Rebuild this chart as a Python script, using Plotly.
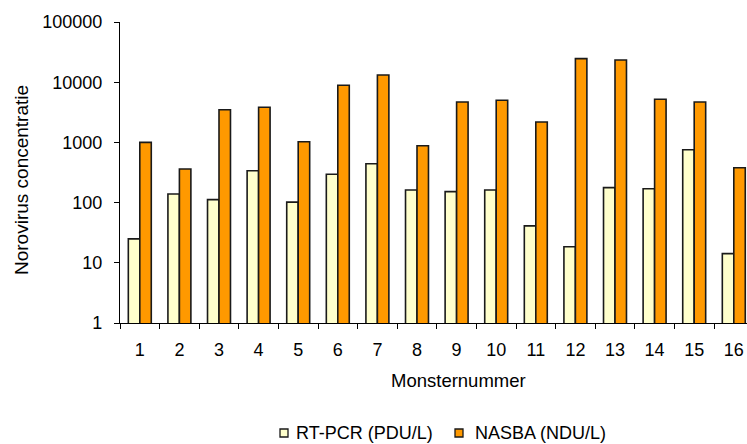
import plotly.graph_objects as go

# Sample numbers and measured norovirus concentrations
samples = [str(i) for i in range(1, 17)]
rt_pcr = [25, 139, 112, 339, 102, 295, 443, 162, 152, 162, 41, 18.5, 177, 170, 757, 14.2]
nasba = [1000, 361, 3490, 3830, 1027, 8880, 13180, 881, 4690, 5000, 2180, 24600, 23400, 5200, 4690, 380]

y_tick_values = [1, 10, 100, 1000, 10000, 100000]
y_tick_labels = ["1", "10", "100", "1000", "10000", "100000"]

series_names = ["RT-PCR (PDU/L)", "NASBA (NDU/L)"]
series_colors = ["#FFFFCC", "#FF9900"]

W, H = 747, 444
L, R, T, B = 120, 0, 22, 121
plot_w = W - L - R
plot_h = H - T - B
cat_px = 39.6  # pixel width of one sample slot


def px_x(p):
    return (p - L) / plot_w


def px_y(p):
    return (H - B - p) / plot_h


FONT = "Liberation Sans, Arial, sans-serif"

fig = go.Figure()
for name, vals, col in zip(series_names, [rt_pcr, nasba], series_colors):
    fig.add_trace(go.Bar(
        x=samples, y=vals, name=name,
        marker=dict(color=col, line=dict(color="#1a1a1a", width=1.6)),
        showlegend=False,
    ))

fig.update_layout(
    width=W, height=H,
    margin=dict(l=L, r=R, t=T, b=B, pad=0),
    paper_bgcolor="white", plot_bgcolor="white",
    barmode="group", bargap=0.42, bargroupgap=0,
    font=dict(family=FONT, size=18, color="black"),
    xaxis=dict(
        type="category",
        range=[-0.5, -0.5 + plot_w / cat_px],
        showgrid=False, zeroline=False,
        showline=True, linecolor="black", linewidth=1.3,
        ticks="outside", tickson="boundaries", ticklen=5, tickwidth=1.3, tickcolor="black",
        ticklabelstandoff=10,
        tickfont=dict(size=18),
    ),
    yaxis=dict(
        type="log", range=[0, 5],
        tickvals=y_tick_values, ticktext=y_tick_labels,
        showgrid=False, zeroline=False,
        showline=True, linecolor="black", linewidth=1.3,
        ticks="outside", ticklen=5, tickwidth=1.3, tickcolor="black",
        ticklabelstandoff=8,
        tickfont=dict(size=18),
    ),
)

# Axis titles
fig.add_annotation(text="Monsternummer", xref="paper", yref="paper",
                   x=px_x(458), y=px_y(380), xanchor="center", yanchor="middle",
                   showarrow=False, font=dict(size=18.5))
fig.add_annotation(text="Norovirus concentratie", xref="paper", yref="paper",
                   x=px_x(21), y=px_y(180), xanchor="center", yanchor="middle",
                   textangle=-90, showarrow=False, font=dict(size=19))

# Legend keys and labels
legend_items = [(280, 294), (455, 473)]
for (sq_x, tx_x), name, col in zip(legend_items, series_names, series_colors):
    fig.add_shape(type="rect", xref="paper", yref="paper",
                  x0=px_x(sq_x), x1=px_x(sq_x + 8), y0=px_y(429), y1=px_y(437),
                  fillcolor=col, line=dict(color="#1a1a1a", width=1.3))
    fig.add_annotation(text=name, xref="paper", yref="paper",
                       x=px_x(tx_x), y=px_y(433), xanchor="left", yanchor="middle",
                       showarrow=False, font=dict(size=18))

fig.write_html("out.html")
